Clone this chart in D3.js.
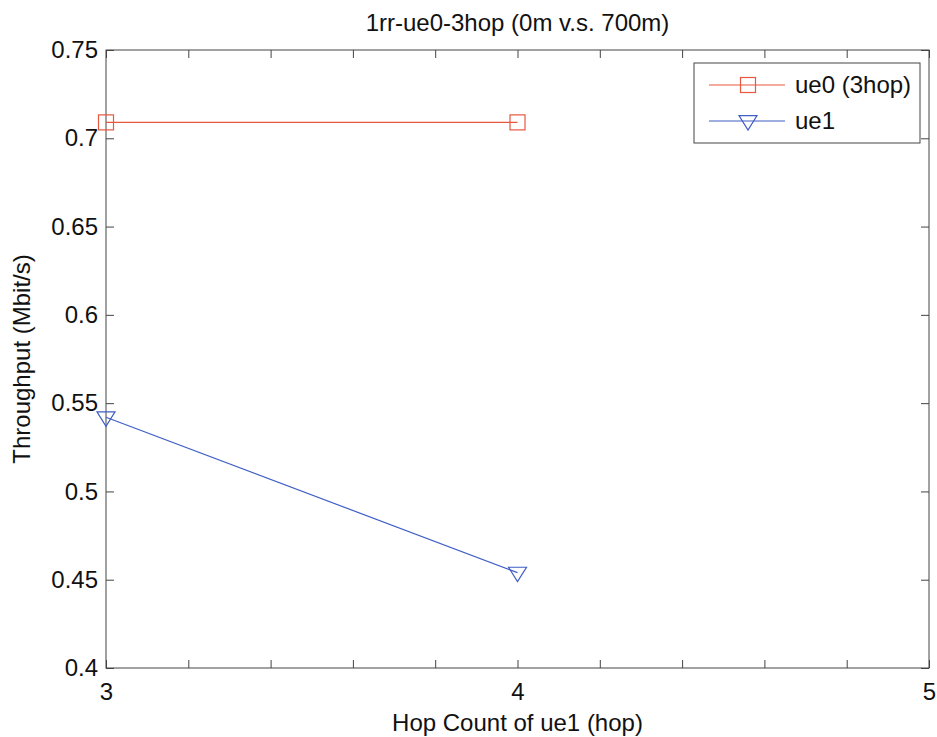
<!DOCTYPE html>
<html>
<head>
<meta charset="utf-8">
<script src="https://cdn.jsdelivr.net/npm/d3@7"></script>
<style>
  body { margin: 0; background: #fff; }
  text { font-family: "Liberation Sans", Arial, sans-serif; fill: #111; }
</style>
</head>
<body>
<svg id="chart" width="937" height="737"></svg>
<script>
// chart data
var hops = [3, 4];
var ue0 = [0.709, 0.709];
var ue1 = [0.542, 0.454];
var seriesNames = ["ue0 (3hop)", "ue1"];
var xTickLabels = [3, 4, 5];
var yTickLabels = [0.4, 0.45, 0.5, 0.55, 0.6, 0.65, 0.7, 0.75];

var svg = d3.select("#chart");
var pLeft = 106, pRight = 929, pTop = 50, pBottom = 668;

var x = d3.scaleLinear().domain([3, 5]).range([pLeft, pRight]);
var y = d3.scaleLinear().domain([0.4, 0.75]).range([pBottom, pTop]);

var red = "#e8583f", blue = "#3f5fc4", axisCol = "#444";

// frame
svg.append("rect")
  .attr("x", pLeft).attr("y", pTop)
  .attr("width", pRight - pLeft).attr("height", pBottom - pTop)
  .attr("fill", "none").attr("stroke", axisCol).attr("stroke-width", 1);

var minorX = d3.range(3, 5.001, 0.2);
var tl = 8;

// x ticks (bottom + top, inward)
var xb = svg.append("g").attr("transform", "translate(0," + pBottom + ")")
  .call(d3.axisBottom(x).tickValues(minorX).tickSize(-tl)
    .tickFormat(function(d) { return xTickLabels.indexOf(Math.round(d * 10) / 10) >= 0 ? d3.format("d")(d) : ""; }));
xb.select(".domain").remove();
xb.selectAll("line").attr("stroke", axisCol);
xb.selectAll("text").attr("dy", "1.2em").style("font-size", "24px");

var xt = svg.append("g").attr("transform", "translate(0," + pTop + ")")
  .call(d3.axisTop(x).tickValues(minorX).tickSize(-tl).tickFormat(""));
xt.select(".domain").remove();
xt.selectAll("line").attr("stroke", axisCol);

// y ticks (left + right, inward)
var yl = svg.append("g").attr("transform", "translate(" + pLeft + ",0)")
  .call(d3.axisLeft(y).tickValues(yTickLabels).tickSize(-tl).tickPadding(8)
    .tickFormat(function(d) { return String(+d.toFixed(2)); }));
yl.select(".domain").remove();
yl.selectAll("line").attr("stroke", axisCol);
yl.selectAll("text").style("font-size", "24px");

var yr = svg.append("g").attr("transform", "translate(" + pRight + ",0)")
  .call(d3.axisRight(y).tickValues(yTickLabels).tickSize(-tl).tickFormat(""));
yr.select(".domain").remove();
yr.selectAll("line").attr("stroke", axisCol);

svg.selectAll(".tick text").attr("fill", "#111").style("font-family", "'Liberation Sans', Arial, sans-serif");

// title and labels
svg.append("text").attr("x", (pLeft + pRight) / 2).attr("y", 31)
  .attr("text-anchor", "middle").style("font-size", "24px")
  .text("1rr-ue0-3hop (0m v.s. 700m)");
svg.append("text").attr("x", (pLeft + pRight) / 2).attr("y", 731)
  .attr("text-anchor", "middle").style("font-size", "24px")
  .text("Hop Count of ue1 (hop)");
svg.append("text")
  .attr("transform", "translate(30," + ((pTop + pBottom) / 2) + ") rotate(-90)")
  .attr("text-anchor", "middle").style("font-size", "24px")
  .text("Throughput (Mbit/s)");

// series
var line = d3.line().x(function(d) { return x(d[0]); }).y(function(d) { return y(d[1]); });
var d0 = hops.map(function(h, i) { return [h, ue0[i]]; });
var d1 = hops.map(function(h, i) { return [h, ue1[i]]; });

function square(g, cx, cy, col) {
  g.append("rect").attr("x", cx - 7.5).attr("y", cy - 7.5).attr("width", 15).attr("height", 15)
    .attr("fill", "none").attr("stroke", col).attr("stroke-width", 1.2);
}
function tri(g, cx, cy, col) {
  var s = 9;
  g.append("path")
    .attr("d", "M" + (cx - s) + "," + (cy - s * 0.6) + "L" + (cx + s) + "," + (cy - s * 0.6) + "L" + cx + "," + (cy + s) + "Z")
    .attr("fill", "none").attr("stroke", col).attr("stroke-width", 1.2);
}

svg.append("path").datum(d0).attr("d", line).attr("fill", "none").attr("stroke", red).attr("stroke-width", 1.2);
svg.append("path").datum(d1).attr("d", line).attr("fill", "none").attr("stroke", blue).attr("stroke-width", 1.2);
var mk = svg.append("g");
d0.forEach(function(d) { square(mk, x(d[0]), y(d[1]), red); });
d1.forEach(function(d) { tri(mk, x(d[0]), y(d[1]), blue); });

// legend
var lg = svg.append("g");
lg.append("rect").attr("x", 694).attr("y", 63).attr("width", 226).attr("height", 80)
  .attr("fill", "#fff").attr("stroke", axisCol).attr("stroke-width", 1);
var rows = [85, 121];
[red, blue].forEach(function(col, i) {
  lg.append("line").attr("x1", 709).attr("x2", 785).attr("y1", rows[i]).attr("y2", rows[i])
    .attr("stroke", col).attr("stroke-width", 1.2);
  if (i === 0) square(lg, 748, rows[i], col); else tri(lg, 748, rows[i], col);
  lg.append("text").attr("x", 795).attr("y", rows[i]).attr("dy", "0.35em")
    .style("font-size", "24px").text(seriesNames[i]);
});
</script>
</body>
</html>
